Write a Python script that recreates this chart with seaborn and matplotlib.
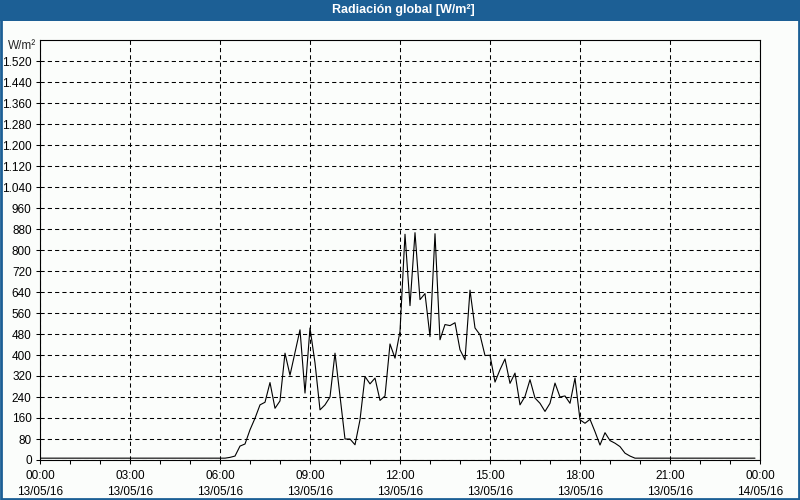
import numpy as np
import pandas as pd
import matplotlib
matplotlib.use("Agg")
import matplotlib.pyplot as plt
import matplotlib.dates as mdates
from matplotlib.ticker import FuncFormatter
from matplotlib.patches import Rectangle
import seaborn as sns

# ---- data: global radiation, 10-minute samples, 13/05/16 00:00 .. 23:50 ----
start_time = "2016-05-13 00:00"
step_minutes = 10
night_am = [7, 7, 7, 7, 7, 7, 7, 7, 7, 7, 7, 7,   # 00:00-01:50
            7, 7, 7, 7, 7, 7, 7, 7, 7, 7, 7, 7,   # 02:00-03:50
            7, 7, 7, 7, 7, 7, 7, 7, 7, 7, 7, 7]   # 04:00-05:50
day = [7, 7, 10, 15, 53, 61,            # 06:00-06:50
       115, 159, 210, 220, 295, 197,    # 07:00
       225, 407, 323, 410, 496, 255,    # 08:00
       503, 370, 191, 210, 240, 407,    # 09:00
       245, 80, 80, 58, 153, 318,       # 10:00
       290, 312, 227, 244, 442, 388,    # 11:00
       490, 860, 588, 866, 611, 634,    # 12:00
       470, 862, 458, 516, 512, 523,    # 13:00
       420, 382, 647, 503, 477, 398,    # 14:00
       399, 297, 344, 385, 292, 331,    # 15:00
       210, 242, 306, 236, 216, 185,    # 16:00
       216, 293, 240, 244, 216, 312,    # 17:00
       153, 140, 155, 108, 57, 104,     # 18:00
       74, 64, 51, 26, 15, 7]           # 19:00
night_pm = [7, 7, 7, 7, 7, 7, 7, 7, 7, 7, 7, 7,   # 20:00-21:50
            7, 7, 7, 7, 7, 7, 7, 7, 7, 7, 7, 7]   # 22:00-23:50

values = night_am + day + night_pm
times = pd.date_range(start_time, periods=len(values), freq=f"{step_minutes}min")
df = pd.DataFrame({"time": times, "value": values})

title = "Radiación global [W/m²]"
unit_label = "W/m²"
y_max = 1600
y_step = 80

BLUE = "#1c5f95"
BG = "#fbfdfb"

sns.set_style("white")
plt.rcParams["font.family"] = ["Liberation Sans", "DejaVu Sans"]

fig = plt.figure(figsize=(8, 5), dpi=100, facecolor=BG)
ax = fig.add_axes([40 / 800, 1 - 460 / 500, 720 / 800, 420 / 500])
ax.set_facecolor(BG)

sns.lineplot(data=df, x="time", y="value", ax=ax, color="black", linewidth=0.8)

ax.set_xlim(pd.Timestamp("2016-05-13 00:00"), pd.Timestamp("2016-05-14 00:00"))
ax.set_ylim(0, y_max)

ax.xaxis.set_major_locator(mdates.HourLocator(byhour=range(0, 24, 3)))
ax.xaxis.set_minor_locator(mdates.HourLocator())
ax.xaxis.set_major_formatter(mdates.DateFormatter("%H:%M\n%d/%m/%y"))

yt = list(range(0, y_max, y_step))
ax.set_yticks(yt)
ax.yaxis.set_major_formatter(FuncFormatter(lambda v, p: f"{int(v):,}".replace(",", ".")))

ax.grid(True, which="major", color="black", linestyle=(0, (4, 3)), linewidth=0.75)
ax.tick_params(axis="both", which="both", direction="out", length=3, width=0.75,
               colors="black", labelsize=8.5, bottom=True, left=True)
ax.tick_params(axis="x", pad=4)
ax.tick_params(axis="y", pad=3)
for lbl in ax.get_xticklabels():
    lbl.set_linespacing(1.45)
for s in ax.spines.values():
    s.set_color("black")
    s.set_linewidth(0.8)
    s.set_visible(True)
ax.set_xlabel("")
ax.set_ylabel("")

fig.text(22 / 800, 1 - 46 / 500, unit_label, ha="center", va="center", fontsize=8.5)

# title bar
fig.patches.append(Rectangle((0, 1 - 21 / 500), 1, 21 / 500, transform=fig.transFigure,
                             facecolor=BLUE, edgecolor="none", zorder=0))
fig.text(403 / 800, 1 - 10.5 / 500, title, ha="center", va="center", color="white",
         fontsize=9, fontweight="bold")
# window border
fig.patches.append(Rectangle((0.001, 0.002), 0.998, 0.996, transform=fig.transFigure,
                             facecolor="none", edgecolor=BLUE, linewidth=2, zorder=5))

fig.savefig("out.png", dpi=100, facecolor=BG)
